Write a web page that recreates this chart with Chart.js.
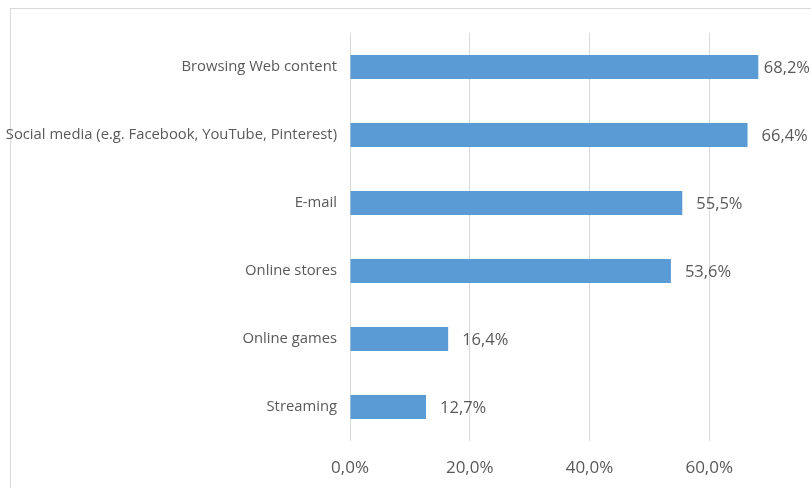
<!DOCTYPE html>
<html>
<head>
<meta charset="utf-8">
<script src="https://cdn.jsdelivr.net/npm/chart.js@4.4.1/dist/chart.umd.min.js"></script>
<style>
  html, body { margin: 0; padding: 0; background: #fff; }
  #wrap { position: relative; width: 811px; height: 488px; overflow: hidden; }
  #frame { position: absolute; left: 10px; top: 8px; width: 900px; height: 600px;
           border-left: 1px solid #d9d9d9; border-top: 1px solid #d9d9d9; }
  canvas { position: absolute; left: 0; top: 0; }
</style>
</head>
<body>
<div id="wrap">
  <div id="frame"></div>
  <canvas id="usageChart" width="811" height="488"></canvas>
</div>
<script>
const categories = [
  'Browsing Web content',
  'Social media (e.g. Facebook, YouTube, Pinterest)',
  'E-mail',
  'Online stores',
  'Online games',
  'Streaming'
];
const shares = [68.2, 66.4, 55.5, 53.6, 16.4, 12.7];
const xTicks = [0, 20, 40, 60];

const TEXT = '#595959';
const FONT = "'Open Sans', sans-serif";

const fmt = v => v.toFixed(1).replace('.', ',') + '%';

// value labels to the right of each bar, pulled back in when they would overflow
const valueLabels = {
  id: 'valueLabels',
  afterDatasetsDraw(chart) {
    const ctx = chart.ctx;
    const meta = chart.getDatasetMeta(0);
    ctx.save();
    ctx.font = '16.5px ' + FONT;
    ctx.fillStyle = TEXT;
    ctx.textBaseline = 'middle';
    ctx.textAlign = 'left';
    meta.data.forEach((bar, i) => {
      const txt = fmt(shares[i]);
      const w = ctx.measureText(txt).width;
      const x = Math.min(bar.x + 14, chart.width - 1 - w);
      ctx.fillText(txt, x, bar.y + 1);
    });
    ctx.restore();
  }
};

new Chart(document.getElementById('usageChart'), {
  type: 'bar',
  data: {
    labels: categories,
    datasets: [{
      data: shares,
      backgroundColor: '#5b9bd5',
      borderWidth: 0,
      categoryPercentage: 1,
      barPercentage: 0.35
    }]
  },
  options: {
    indexAxis: 'y',
    responsive: false,
    animation: false,
    layout: { padding: { top: 33, bottom: 11, left: 0, right: 0 } },
    plugins: { legend: { display: false }, tooltip: { enabled: false } },
    scales: {
      x: {
        min: 0,
        max: 77,
        afterBuildTicks: axis => { axis.ticks = xTicks.map(v => ({ value: v })); },
        afterFit: axis => { axis.height = 36; },
        grid: { color: '#d9d9d9', drawTicks: false },
        border: { display: false },
        ticks: {
          color: TEXT,
          font: { family: FONT, size: 17 },
          padding: 17,
          callback: v => fmt(v)
        }
      },
      y: {
        afterFit: axis => { axis.width = 350; },
        grid: { display: false, drawTicks: false },
        border: { display: false },
        ticks: {
          color: TEXT,
          font: { family: FONT, size: 14.8 },
          padding: 13
        }
      }
    }
  },
  plugins: [valueLabels]
});
</script>
</body>
</html>
